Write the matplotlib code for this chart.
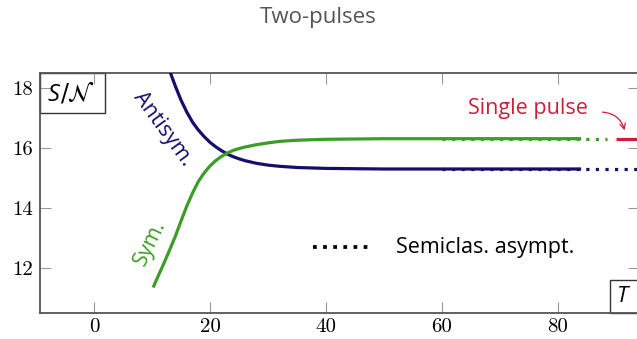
import matplotlib
matplotlib.use("Agg")
import matplotlib.pyplot as plt
from matplotlib.patches import Rectangle

# ---- data ----
sym_T = [10.2, 11, 12, 13, 14, 15, 16, 17, 18, 19, 20, 21, 22, 23, 24, 25, 26, 28, 30, 32, 35, 40, 50, 60, 70, 84]
sym_S = [11.35, 11.7, 12.13, 12.58, 13.04, 13.56, 14.06, 14.5, 14.88, 15.17, 15.4, 15.58, 15.72, 15.83, 15.92, 15.98, 16.03, 16.11, 16.17, 16.22, 16.26, 16.29, 16.31, 16.31, 16.31, 16.31]
anti_T = [13.1, 14, 15, 16, 17, 18, 19, 20, 21, 22, 23, 24, 25, 26, 28, 30, 32, 35, 40, 50, 60, 70, 84]
anti_S = [18.55, 18.08, 17.6, 17.2, 16.86, 16.6, 16.38, 16.19, 16.04, 15.91, 15.8, 15.71, 15.64, 15.58, 15.49, 15.43, 15.39, 15.35, 15.32, 15.30, 15.30, 15.30, 15.30]
sym_asym = 16.31
anti_asym = 15.30
single_pulse = 16.31
sym_asym_T = [60, 88.5]
anti_asym_T = [60, 95]
single_T = [90, 95]
xticks = [0, 20, 40, 60, 80]
yticks = [12, 14, 16, 18]

navy = '#150f6b'
green = '#3c9d26'
red = '#cc1f3a'
grey = '#555555'
sans = ['Open Sans', 'DejaVu Sans']

fig = plt.figure(figsize=(6.37, 3.39), dpi=100)
axw = (639 - 40) / 637
ax = fig.add_axes([40/637, 1-313/339, axw, (313-73)/339])
xmin, xmax = -9.3, -9.3 + 599/5.8

lw = 2.3
ax.plot(anti_T, anti_S, color=navy, lw=lw, solid_capstyle='butt', zorder=3)
ax.plot(sym_T, sym_S, color=green, lw=lw, solid_capstyle='butt', zorder=4)
ax.plot(anti_asym_T, [anti_asym]*2, color=navy, lw=lw, ls=(0, (1, 2)), dash_capstyle='butt', zorder=3)
ax.plot(sym_asym_T, [sym_asym]*2, color=green, lw=lw, ls=(0, (1, 2)), dash_capstyle='butt', zorder=4)
ax.plot(single_T, [single_pulse]*2, color=red, lw=lw, solid_capstyle='butt', zorder=5)

ax.set_xlim(xmin, xmax)
ax.set_ylim(10.5, 18.5)
ax.set_xticks(xticks)
ax.set_yticks(yticks)
ax.set_xticklabels([str(v) for v in xticks], fontfamily='cmr10', fontsize=15)
ax.set_yticklabels([str(v) for v in yticks], fontfamily='cmr10', fontsize=15)
ax.tick_params(direction='in', length=8, width=0.8, color='#999999',
               top=True, right=True, pad=5)
ax.tick_params(axis='x', pad=4)
for s in ax.spines.values():
    s.set_color(grey)
    s.set_linewidth(1.3)

# labels on curves
ax.text(11.9, 16.65, 'Antisym.', color=navy, rotation=-54, fontsize=15.5,
        family=sans, ha='center', va='center', rotation_mode='anchor')
ax.text(9.7, 12.85, 'Sym.', color=green, rotation=64, fontsize=15.5,
        family=sans, ha='center', va='center', rotation_mode='anchor')

# single pulse annotation
ax.text(74.8, 17.33, 'Single pulse', color=red, fontsize=15.5, family=sans,
        ha='center', va='center')
ax.annotate('', xy=(91.6, 16.5), xytext=(87.2, 17.2),
            arrowprops=dict(arrowstyle='->', color=red, lw=0.9,
                            connectionstyle='arc3,rad=-0.4'))

# legend
ax.plot([37.8, 47.2], [12.7, 12.7], color='black', lw=lw + 0.4, ls=(0, (1, 1.7)),
        dash_capstyle='butt')
ax.text(52.0, 12.7, 'Semiclas. asympt.', color='black', fontsize=15.5,
        family=sans, ha='left', va='center')

# axis label boxes
ax.text(8/599, 0.885, 'S', transform=ax.transAxes, fontsize=17,
        style='italic', family=sans, ha='left', va='baseline', color='black')
ax.text(20/599, 0.885, r'$/\mathcal{N}$', transform=ax.transAxes,
        fontsize=17, ha='left', va='baseline', color='black')
ax.add_patch(Rectangle((0, 1-40/240), 65/599, 40/240, transform=ax.transAxes,
                       fill=False, edgecolor='#333333', lw=1.0, clip_on=False))
ax.text((623-40)/599, 0.5*33/240, 'T', transform=ax.transAxes, fontsize=16,
        style='italic', family=sans, ha='center', va='center')
ax.add_patch(Rectangle(((610-40)/599, 0), 40/599, 33/240, transform=ax.transAxes,
                       fill=False, edgecolor='#333333', lw=1.0, clip_on=False))

fig.text(318/637, 1-18/339, 'Two-pulses', color='#555555', fontsize=16,
         family=sans, ha='center', va='center')

fig.savefig('out.png', dpi=100)
